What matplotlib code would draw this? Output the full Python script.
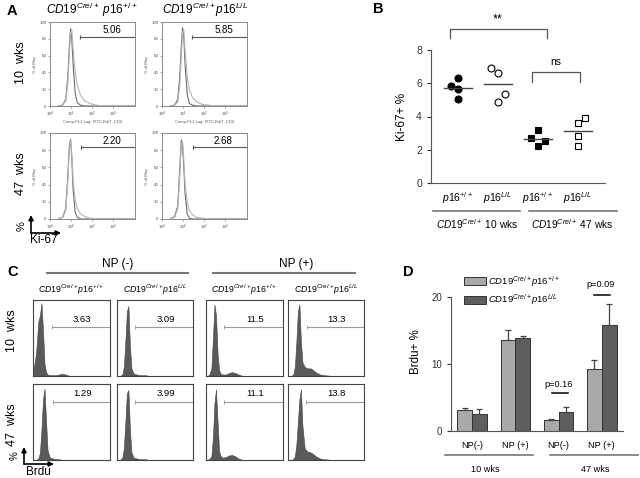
import matplotlib
matplotlib.use("Agg")

import matplotlib.pyplot as plt
import numpy as np
from matplotlib.lines import Line2D
from matplotlib.patches import FancyArrowPatch, Patch
from matplotlib.ticker import NullLocator

plt.rcParams["font.family"] = ["Liberation Sans", "DejaVu Sans"]
plt.rcParams["mathtext.fontset"] = "custom"
plt.rcParams["mathtext.rm"] = "Liberation Sans"
plt.rcParams["mathtext.it"] = "Liberation Sans:italic"
plt.rcParams["mathtext.default"] = "it"

# ---------------- data ----------------
# A: Ki-67 FACS overlays, x in log10(FL1), y in % of max
a_x = [0.4, 0.6, 0.75, 0.85, 0.92, 0.98, 1.04, 1.1, 1.2, 1.3, 1.45, 1.65, 1.9, 2.2, 2.5, 4.0]
a_ctrl_10_wt = [0, 1, 8, 35, 70, 92, 80, 50, 15, 4, 1, 0, 0, 0, 0, 0]
a_ki67_10_wt = [0, 1, 6, 28, 62, 88, 90, 68, 40, 25, 13, 6, 3, 1, 0, 0]
a_ctrl_10_ko = [0, 1, 8, 36, 72, 93, 82, 50, 14, 3, 1, 0, 0, 0, 0, 0]
a_ki67_10_ko = [0, 1, 5, 25, 60, 88, 90, 65, 35, 20, 10, 5, 2, 1, 0, 0]
a_ctrl_47_wt = [0, 2, 12, 50, 85, 93, 70, 35, 8, 2, 0, 0, 0, 0, 0, 0]
a_ki67_47_wt = [0, 2, 10, 45, 80, 92, 75, 45, 22, 12, 6, 3, 1, 0, 0, 0]
a_ctrl_47_ko = [0, 3, 15, 60, 92, 85, 60, 30, 6, 1, 0, 0, 0, 0, 0, 0]
a_ki67_47_ko = [0, 2, 12, 52, 88, 90, 68, 40, 20, 10, 5, 2, 1, 0, 0, 0]
a_pct = [5.06, 5.85, 2.20, 2.68]
a_gate_start = [1.45, 1.42, 1.50, 1.47]
a_gate_y = [82, 82, 84, 84]

# B: Ki-67+ % per mouse
b_groups = [r"$p16^{+/+}$", r"$p16^{L/L}$", r"$p16^{+/+}$", r"$p16^{L/L}$"]
b_10_wt = [5.84, 6.32, 5.66, 5.06]
b_10_ko = [6.93, 6.60, 4.90, 5.35]
b_47_wt = [2.70, 3.20, 2.20, 2.55]
b_47_ko = [3.60, 3.90, 2.85, 2.20]
b_jitter = [[-0.17, 0, 0, 0], [-0.17, 0, 0, 0.17], [-0.17, 0, 0, 0.17], [0, 0.17, 0, 0]]

# C: BrdU histograms, x and y as fraction of the plot box
c_x = [0, 0.04, 0.07, 0.09, 0.11, 0.13, 0.15, 0.17, 0.19, 0.22, 0.26, 0.30, 0.34, 0.38, 0.42, 0.48, 0.6, 1.0]
c_10_neg_wt = [0.03, 0.3, 0.72, 0.8, 0.96, 0.6, 0.15, 0.05, 0.02, 0.01, 0.01, 0.01, 0.02, 0.03, 0.02, 0.0, 0, 0]
c_10_neg_ko = [0, 0, 0.02, 0.12, 0.45, 0.85, 0.92, 0.4, 0.1, 0.03, 0.02, 0.01, 0.01, 0.01, 0, 0, 0, 0]
c_10_pos_wt = [0, 0.01, 0.1, 0.5, 0.94, 0.8, 0.3, 0.08, 0.03, 0.02, 0.02, 0.04, 0.05, 0.04, 0.02, 0.0, 0, 0]
c_10_pos_ko = [0, 0, 0.02, 0.12, 0.45, 0.85, 0.94, 0.45, 0.18, 0.12, 0.1, 0.1, 0.07, 0.04, 0.02, 0.01, 0, 0]
c_47_neg_wt = [0, 0, 0.02, 0.1, 0.4, 0.8, 0.94, 0.5, 0.12, 0.03, 0.02, 0.01, 0.01, 0, 0, 0, 0, 0]
c_47_neg_ko = [0, 0, 0.03, 0.15, 0.5, 0.88, 0.92, 0.4, 0.1, 0.03, 0.02, 0.01, 0.01, 0.01, 0, 0, 0, 0]
c_47_pos_wt = [0, 0.01, 0.05, 0.3, 0.75, 0.93, 0.5, 0.12, 0.05, 0.03, 0.04, 0.06, 0.065, 0.05, 0.02, 0, 0, 0]
c_47_pos_ko = [0, 0, 0.01, 0.05, 0.2, 0.5, 0.8, 0.93, 0.45, 0.15, 0.11, 0.1, 0.07, 0.04, 0.02, 0.01, 0, 0]
c_pct = [3.63, 3.09, 11.5, 13.3, 1.29, 3.99, 11.1, 13.8]
c_gate_start = [0.25, 0.24, 0.23, 0.25, 0.26, 0.24, 0.23, 0.24]

# D: BrdU+ % (mean, upper error)
d_labels = ["NP(-)", "NP (+)", "NP(-)", "NP (+)"]
d_wt = [3.2, 13.65, 1.6, 9.2]
d_wt_err = [0.25, 1.45, 0.25, 1.35]
d_ko = [2.6, 13.95, 2.8, 15.8]
d_ko_err = [0.7, 0.3, 0.75, 3.1]

# ---------------- helpers ----------------
W, H = 640, 478
fig = plt.figure(figsize=(6.4, 4.78), dpi=100)


def box(x0, y0, x1, y1):
    return [x0 / W, 1 - y1 / H, (x1 - x0) / W, (y1 - y0) / H]


def ftext(x, y, s, **kw):
    kw.setdefault("ha", "center")
    kw.setdefault("va", "center")
    fig.text(x / W, 1 - y / H, s, **kw)


def fline(x0, x1, y, **kw):
    fig.add_artist(Line2D([x0 / W, x1 / W], [1 - y / H, 1 - y / H], **kw))


def farrow(x0, y0, x1, y1):
    fig.add_artist(FancyArrowPatch((x0 / W, 1 - y0 / H), (x1 / W, 1 - y1 / H),
                                   transform=fig.transFigure, arrowstyle="-|>",
                                   mutation_scale=7, lw=1.2, color="k",
                                   shrinkA=0, shrinkB=0))


# ---------------- panel A ----------------
ftext(12, 11, "A", fontsize=10.5, fontweight="bold")
ftext(92, 10, r"$CD19^{Cre/+}\ p16^{+/+}$", fontsize=8.5)
ftext(205, 10, r"$CD19^{Cre/+}p16^{L/L}$", fontsize=8.5)
ftext(21, 63, "10  wks", fontsize=9, rotation=90)
ftext(21, 174, "47  wks", fontsize=9, rotation=90)

a_curves = [(a_ctrl_10_wt, a_ki67_10_wt), (a_ctrl_10_ko, a_ki67_10_ko),
            (a_ctrl_47_wt, a_ki67_47_wt), (a_ctrl_47_ko, a_ki67_47_ko)]
a_boxes = [(50, 22, 135, 106), (162, 22, 247, 106), (50, 133, 135, 219), (162, 133, 247, 219)]
xl = 10 ** np.array(a_x)
xmax = 10 ** 4.05
for i, (b, (ctrl, ki)) in enumerate(zip(a_boxes, a_curves)):
    ax = fig.add_axes(box(*b))
    ax.set_xscale("log")
    ax.set_xlim(1, xmax)
    ax.set_ylim(0, 100)
    ax.plot(xl, ctrl, color="#6a6a6a", lw=0.8)
    ax.plot(xl, ki, color="#b4b4b4", lw=0.8)
    g = 10 ** a_gate_start[i]
    ax.plot([g, xmax], [a_gate_y[i]] * 2, color="#555555", lw=0.8, clip_on=False)
    ax.plot([g], [a_gate_y[i]], marker="|", ms=3, mew=0.8, color="#555555")
    ftext((b[0] + b[2]) / 2 + 19, b[1] + 8, f"{a_pct[i]:.2f}", fontsize=7)
    ax.set_xticks([1, 10, 100, 1000])
    ax.set_xticklabels([r"$\mathregular{10^%d}$" % k for k in range(4)])
    ax.xaxis.set_minor_locator(NullLocator())
    ax.set_yticks([0, 20, 40, 60, 80, 100])
    ax.tick_params(length=1.5, width=0.4, labelsize=3.2, pad=1, colors="#555555")
    for s in ax.spines.values():
        s.set_color("#8a8a8a")
        s.set_linewidth(0.7)
    ax.set_ylabel("% of Max", fontsize=3, labelpad=1.5, color="#555555")
    if i < 2:
        ax.set_xlabel("Comp-FL1 Log: FITC-Ki67_CD4", fontsize=3, labelpad=1, color="#555555")

farrow(31, 233, 31, 215)
farrow(31, 233, 61, 233)
ftext(22, 226, "%", fontsize=8, rotation=90)
ftext(44, 240, "Ki-67", fontsize=8.5)

# ---------------- panel B ----------------
ftext(378, 9, "B", fontsize=10.5, fontweight="bold")
axb = fig.add_axes(box(431, 50, 605, 183))
axb.set_xlim(-0.675, 3.675)
axb.set_ylim(0, 8)
b_sets = [b_10_wt, b_10_ko, b_47_wt, b_47_ko]
b_marks = [("o", "k"), ("o", "white"), ("s", "k"), ("s", "white")]
for pos, (vals, jit, (mk, fc)) in enumerate(zip(b_sets, b_jitter, b_marks)):
    axb.plot(np.array(jit) + pos, vals, ls="none", marker=mk, ms=5 if mk == "o" else 4.6,
             mfc=fc, mec="k", mew=0.8)
    m = np.mean(vals)
    axb.plot([pos - 0.35, pos + 0.35], [m, m], color="#444444", lw=1)
for s in ["top", "right"]:
    axb.spines[s].set_visible(False)
for s in ["left", "bottom"]:
    axb.spines[s].set_color("#555555")
axb.set_yticks([0, 2, 4, 6, 8])
axb.set_xticks(range(4))
axb.set_xticklabels(b_groups)
axb.tick_params(axis="y", length=3, width=0.8, labelsize=7.5, colors="#333333")
axb.tick_params(axis="x", length=0, labelsize=7.5, pad=5)
axb.set_ylabel("Ki-67+ %", fontsize=8.5, labelpad=6)
# significance brackets
axb.plot([-0.2, -0.2, 2.225, 2.225], [8.72, 9.26, 9.26, 8.72], color="#555555", lw=0.9, clip_on=False)
axb.text(1.0, 9.85, "**", ha="center", va="center", fontsize=9)
axb.plot([1.85, 1.85, 3.05, 3.05], [6.08, 6.68, 6.68, 6.08], color="#555555", lw=0.9, clip_on=False)
axb.text(2.45, 7.28, "ns", ha="center", va="center", fontsize=7.5)
fline(433, 520, 211, color="#777777", lw=1.2)
fline(529, 617, 211, color="#777777", lw=1.2)
ftext(477, 224, r"$CD19^{Cre/+}$ 10 wks", fontsize=7.3)
ftext(572, 224, r"$CD19^{Cre/+}$ 47 wks", fontsize=7.3)

# ---------------- panel C ----------------
ftext(13, 272, "C", fontsize=10.5, fontweight="bold")
ftext(118, 264, "NP (-)", fontsize=8.5)
ftext(296, 264, "NP (+)", fontsize=8.5)
fline(47, 188, 273, color="#777777", lw=1.5)
fline(213, 355, 273, color="#777777", lw=1.5)
c_head = [r"$CD19^{Cre/+}p16^{+/+}$", r"$CD19^{Cre/+}p16^{L/L}$"] * 2
c_cols = [(33, 110), (117, 193), (206, 283), (288, 364)]
for (x0, x1), h in zip(c_cols, c_head):
    ftext((x0 + x1) / 2, 290, h, fontsize=6.3)
ftext(12, 331, "10  wks", fontsize=9, rotation=90)
ftext(12, 425, "47  wks", fontsize=9, rotation=90)

c_curves = [c_10_neg_wt, c_10_neg_ko, c_10_pos_wt, c_10_pos_ko,
            c_47_neg_wt, c_47_neg_ko, c_47_pos_wt, c_47_pos_ko]
c_rows = [(300, 376), (384, 460)]
c_gate_px = [327, 402]
for i, ys in enumerate(c_curves):
    r, c = divmod(i, 4)
    x0, x1 = c_cols[c]
    y0, y1 = c_rows[r]
    ax = fig.add_axes(box(x0, y0, x1, y1))
    ax.set_xlim(0, 1)
    ax.set_ylim(0, 1)
    ax.fill_between(c_x, ys, color="#5a5a5a", lw=0.4, edgecolor="#444444")
    gy = (y1 - c_gate_px[r]) / (y1 - y0)
    ax.plot([c_gate_start[i], 1], [gy, gy], color="#9a9a9a", lw=0.8)
    ax.plot([c_gate_start[i]], [gy], marker="|", ms=2.5, mew=0.6, color="#9a9a9a")
    ax.set_xticks([])
    ax.set_yticks([])
    for s in ax.spines.values():
        s.set_color("#444444")
        s.set_linewidth(0.8)
    ftext(x0 + 0.64 * (x1 - x0), c_gate_px[r] - 8, f"{c_pct[i]:.2f}" if c_pct[i] < 10 else f"{c_pct[i]:.1f}",
          fontsize=6.8)

farrow(24, 464, 24, 447)
farrow(24, 464, 54, 464)
ftext(15, 456, "%", fontsize=7, rotation=90)
ftext(38, 472, "Brdu", fontsize=8.5)

# ---------------- panel D ----------------
ftext(408, 272, "D", fontsize=10.5, fontweight="bold")
axd = fig.add_axes(box(451, 297, 623, 431))
axd.set_xlim(-0.485, 3.49)
axd.set_ylim(0, 20)
pos = np.arange(4)
w = 0.34
axd.bar(pos - w / 2, d_wt, w, color="#a9a9a9", edgecolor="#333333", lw=0.7)
axd.bar(pos + w / 2, d_ko, w, color="#5e5e5e", edgecolor="#333333", lw=0.7)
axd.errorbar(pos - w / 2, d_wt, yerr=[np.zeros(4), d_wt_err], fmt="none", ecolor="#444444",
             elinewidth=0.9, capsize=2.5, capthick=0.9)
axd.errorbar(pos + w / 2, d_ko, yerr=[np.zeros(4), d_ko_err], fmt="none", ecolor="#444444",
             elinewidth=0.9, capsize=2.5, capthick=0.9)
for s in ["top", "right"]:
    axd.spines[s].set_visible(False)
for s in ["left", "bottom"]:
    axd.spines[s].set_color("#555555")
axd.set_yticks([0, 10, 20])
axd.set_xticks(pos)
axd.set_xticklabels(d_labels)
axd.tick_params(axis="y", length=3, width=0.8, labelsize=7, colors="#333333")
axd.tick_params(axis="x", length=0, labelsize=6.6, pad=7)
axd.set_ylabel("Brdu+ %", fontsize=8.3)
axd.yaxis.set_label_coords(-0.17, 0.59)
axd.plot([1.85, 2.22], [5.67, 5.67], color="k", lw=1.1)
axd.text(2.0, 7.0, "p=0.16", ha="center", va="center", fontsize=6.6)
axd.plot([2.82, 3.19], [20.3, 20.3], color="k", lw=1.1, clip_on=False)
axd.text(2.98, 21.8, "p=0.09", ha="center", va="center", fontsize=6.6)
axd.legend([Patch(facecolor="#a9a9a9", edgecolor="#333333", lw=0.7),
            Patch(facecolor="#5e5e5e", edgecolor="#333333", lw=0.7)],
           [r"$CD19^{Cre/+}p16^{+/+}$", r"$CD19^{Cre/+}p16^{L/L}$"],
           loc="upper left", bbox_to_anchor=(464 / W, 1 - 274 / H), bbox_transform=fig.transFigure,
           frameon=False, fontsize=6.8, handlelength=2.3, handleheight=0.9,
           handletextpad=0.2, labelspacing=0.45, borderpad=0, borderaxespad=0)
fline(445, 533, 455, color="#777777", lw=1.2)
fline(550, 638, 455, color="#777777", lw=1.2)
ftext(485, 469, "10 wks", fontsize=6.6)
ftext(595, 469, "47 wks", fontsize=6.6)

fig.savefig("out.png", dpi=100)
